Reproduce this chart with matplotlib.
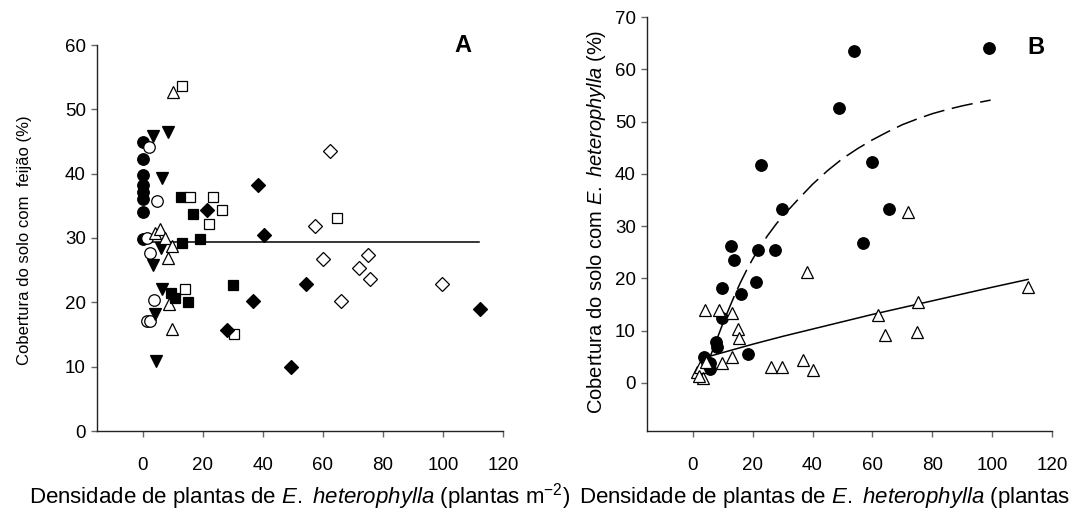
import matplotlib
matplotlib.use("Agg")
import matplotlib.pyplot as plt

plt.rcParams['font.family'] = ['Liberation Sans', 'DejaVu Sans']
plt.rcParams['mathtext.fontset'] = 'custom'
plt.rcParams['mathtext.rm'] = 'Liberation Sans'
plt.rcParams['mathtext.it'] = 'Liberation Sans:italic'

# ---- panel A: cobertura com feijao ----
a_circ_x = [0, 0, 0, 0, 0, 0, 0, 0]
a_circ_y = [44.9, 42.3, 39.8, 38.2, 37.1, 36.0, 34.0, 29.9]
a_ocirc_x = [2.1, 4.7, 1.2, 2.3, 3.8, 1.2, 2.3]
a_ocirc_y = [44.2, 35.8, 30.0, 27.6, 20.4, 17.1, 17.1]
a_tdown_x = [3.4, 8.2, 6.4, 5.9, 3.2, 6.2, 4.0, 4.3]
a_tdown_y = [45.8, 46.4, 39.4, 28.5, 25.8, 22.1, 18.2, 10.9]
a_tup_x = [10.1, 4.0, 5.6, 7.4, 9.8, 8.2, 8.6, 9.8]
a_tup_y = [52.7, 30.8, 31.4, 30.0, 28.7, 26.9, 19.7, 15.8]
a_sq_x = [12.6, 16.7, 13.0, 18.9, 9.3, 10.8, 15.1, 30.1]
a_sq_y = [36.3, 33.8, 29.2, 29.9, 21.5, 20.6, 20.1, 22.7]
a_osq_x = [13.1, 15.7, 23.2, 26.5, 22.1, 14.0, 30.5, 64.6]
a_osq_y = [53.7, 36.3, 36.3, 34.4, 32.1, 22.1, 15.1, 33.1]
a_dia_x = [38.2, 21.5, 40.3, 36.8, 54.3, 27.9, 49.2, 112.3]
a_dia_y = [38.2, 34.4, 30.5, 20.2, 22.8, 15.7, 9.9, 18.9]
a_odia_x = [62.3, 57.3, 60.1, 75.1, 72.1, 75.7, 99.6, 66.0]
a_odia_y = [43.5, 31.8, 26.7, 27.3, 25.4, 23.6, 22.8, 20.2]
a_fit_x = [0, 112]
a_fit_y = [29.35, 29.35]

# ---- panel B: cobertura com E. heterophylla ----
b_circ_x = [53.8, 99.0, 48.8, 22.7, 59.7, 29.8, 65.7, 56.8, 12.6, 21.8, 27.3,
            13.7, 9.8, 21.0, 16.2, 9.8, 7.9, 8.1, 18.4, 3.7, 5.7, 5.9]
b_circ_y = [63.5, 64.1, 52.6, 41.7, 42.3, 33.3, 33.3, 26.7, 26.1, 25.4, 25.4,
            23.6, 18.2, 19.4, 17.0, 12.4, 7.9, 6.8, 5.5, 4.9, 3.8, 2.6]
b_tri_x = [71.8, 38.0, 4.0, 8.8, 13.1, 15.1, 15.4, 13.1, 9.8, 26.2, 29.9,
           36.8, 40.1, 112.0, 75.4, 62.0, 64.3, 74.8, 1.5, 2.5, 3.5, 4.5, 2.0]
b_tri_y = [32.6, 21.3, 14.0, 14.0, 13.4, 10.3, 8.5, 4.9, 3.8, 3.1, 3.1,
           4.4, 2.5, 18.3, 15.4, 12.9, 9.2, 9.8, 2.0, 3.0, 1.0, 4.0, 1.3]
b_dash_x = [4, 6, 8, 10, 12, 14, 16, 18, 20, 22, 25, 28, 31, 35, 40, 45, 50,
            55, 60, 65, 70, 75, 80, 85, 90, 95, 99.5]
b_dash_y = [2.5, 5.3, 8.3, 11.3, 14.1, 16.8, 19.3, 21.6, 23.7, 25.6, 28.2,
            30.5, 32.5, 35.0, 38.0, 40.6, 42.9, 44.8, 46.5, 48.0, 49.4, 50.5,
            51.5, 52.3, 53.0, 53.6, 54.1]
b_line_x = [5, 10, 20, 30, 40, 50, 60, 70, 80, 90, 100, 112]
b_line_y = [5.0, 5.8, 7.4, 8.9, 10.3, 11.7, 13.1, 14.4, 15.7, 17.0, 18.3, 19.8]

xticks = [0, 20, 40, 60, 80, 100, 120]

W, H = 1071, 517
fig = plt.figure(figsize=(W / 100, H / 100), dpi=100)


def style_axes(ax):
    for s in ['top', 'right']:
        ax.spines[s].set_visible(False)
    for s in ['left', 'bottom']:
        ax.spines[s].set_linewidth(1.0)
        ax.spines[s].set_color('#222222')
    ax.tick_params(axis='both', direction='out', length=4, width=1,
                   color='#666666', labelsize=13.5)
    ax.tick_params(axis='x', pad=15)
    ax.tick_params(axis='y', pad=4)
    ax.set_xticks(xticks)
    ax.set_xlim(-15.3, 120)


def pts(ax, x, y, marker, filled, ms):
    fc = 'black' if filled else 'white'
    ax.plot(x, y, linestyle='none', marker=marker, ms=ms, mfc=fc,
            mec='black', mew=0.9, zorder=3)


axA = fig.add_axes([97 / W, (H - 431) / H, (503 - 97) / W, (431 - 45) / H])
style_axes(axA)
axA.set_ylim(0, 60)
axA.set_yticks(range(0, 61, 10))
axA.plot(a_fit_x, a_fit_y, color='black', lw=1.1, zorder=2)
pts(axA, a_circ_x, a_circ_y, 'o', True, 8.3)
pts(axA, a_ocirc_x, a_ocirc_y, 'o', False, 8.3)
pts(axA, a_tdown_x, a_tdown_y, 'v', True, 8.7)
pts(axA, a_tup_x, a_tup_y, '^', False, 8.7)
pts(axA, a_sq_x, a_sq_y, 's', True, 7.5)
pts(axA, a_osq_x, a_osq_y, 's', False, 7.5)
pts(axA, a_dia_x, a_dia_y, 'D', True, 7)
pts(axA, a_odia_x, a_odia_y, 'D', False, 7)

axB = fig.add_axes([647 / W, (H - 431) / H, (1052 - 647) / W, (431 - 17) / H])
style_axes(axB)
axB.set_ylim(-9.2, 70)
axB.set_yticks(range(0, 71, 10))
axB.plot(b_dash_x, b_dash_y, color='black', lw=1.1, dashes=(14, 5), zorder=2)
axB.plot(b_line_x, b_line_y, color='black', lw=1.1, zorder=2)
pts(axB, b_circ_x, b_circ_y, 'o', True, 8.3)
pts(axB, b_tri_x, b_tri_y, '^', False, 8.7)

fig.text(463 / W, (H - 45) / H, 'A', fontsize=17, fontweight='bold',
         ha='center', va='center')
fig.text(1036 / W, (H - 47) / H, 'B', fontsize=17, fontweight='bold',
         ha='center', va='center')

# x titles centred under each panel; the right one runs off the figure edge
xlab = r'Densidade de plantas de $\it{E.}$ $\it{heterophylla}$ (plantas m$^{-2}$)'
fig.text(300 / W, (H - 497) / H, xlab, fontsize=16, ha='center', va='center')
fig.text(849.5 / W, (H - 497) / H, xlab, fontsize=16, ha='center', va='center')

fig.text(25 / W, (H - 240) / H, 'Cobertura do solo com  feijão (%)',
         fontsize=12, rotation=90, ha='center', va='center')
fig.text(597 / W, (H - 222) / H,
         r'Cobertura do solo com $\it{E.}$ $\it{heterophylla}$ (%)',
         fontsize=14.5, rotation=90, ha='center', va='center')

fig.savefig('out.png', dpi=100)
